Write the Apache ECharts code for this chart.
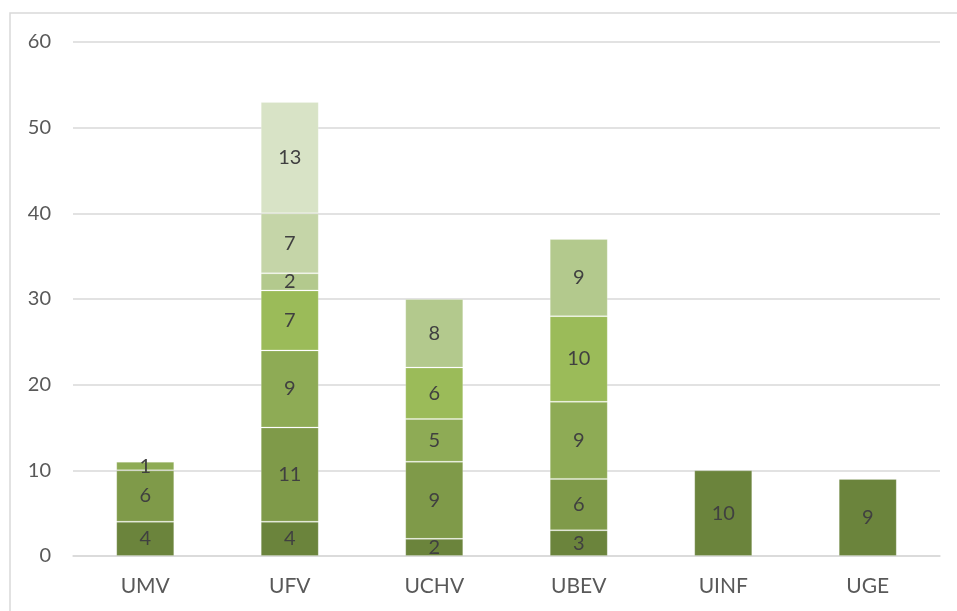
<!DOCTYPE html>
<html>
<head>
<meta charset="utf-8">
<script src="https://cdn.jsdelivr.net/npm/echarts@6/dist/echarts.min.js"></script>
<style>html,body{margin:0;padding:0;background:#fff;}#c{width:957px;height:611px;}</style>
</head>
<body>
<div id="c"></div>
<script>
const categories = ['UMV','UFV','UCHV','UBEV','UINF','UGE'];
const s1 = [4, 4, 2, 3, 10, 9];
const s2 = [6, 11, 9, 6, null, null];
const s3 = [1, 9, 5, 9, null, null];
const s4 = [null, 7, 6, 10, null, null];
const s5 = [null, 2, 8, 9, null, null];
const s6 = [null, 7, null, null, null, null];
const s7 = [null, 13, null, null, null, null];
const yTicks = [0, 10, 20, 30, 40, 50, 60];

const seriesData = [s1, s2, s3, s4, s5, s6, s7];
const colors = ['#6b843c', '#7f9a49', '#8eab55', '#9bbb59', '#b3c98d', '#c5d5a8', '#d8e3c6'];
const font = 'Lato, "Open Sans", sans-serif';

const chart = echarts.init(document.getElementById('c'), null, {renderer: 'canvas'});
chart.setOption({
  animation: false,
  backgroundColor: '#fff',
  graphic: [{
    type: 'rect', shape: {x: 10, y: 13, width: 960, height: 620},
    style: {fill: 'none', stroke: '#d9d9d9', lineWidth: 1.5}, silent: true, z: -10
  }],
  grid: {left: 73, right: 17, top: 42, bottom: 55},
  xAxis: {
    type: 'category', data: categories,
    axisLine: {show: true, lineStyle: {color: '#d9d9d9', width: 1.5}},
    axisTick: {show: false},
    axisLabel: {color: '#595959', fontSize: 21, fontFamily: font, margin: 20}
  },
  yAxis: {
    type: 'value', min: yTicks[0], max: yTicks[yTicks.length - 1], interval: 10,
    axisLine: {show: false}, axisTick: {show: false},
    splitLine: {lineStyle: {color: '#d9d9d9', width: 1.5}},
    axisLabel: {color: '#595959', fontSize: 20, fontFamily: font, margin: 22}
  },
  series: seriesData.map((d, i) => ({
    type: 'bar', stack: 'total', data: d, barWidth: 58,
    itemStyle: {color: colors[i], borderColor: 'rgba(255,255,255,0.2)', borderWidth: 1},
    label: {show: true, position: 'inside', color: '#404040', fontSize: 20, fontFamily: font}
  }))
});
</script>
</body>
</html>
